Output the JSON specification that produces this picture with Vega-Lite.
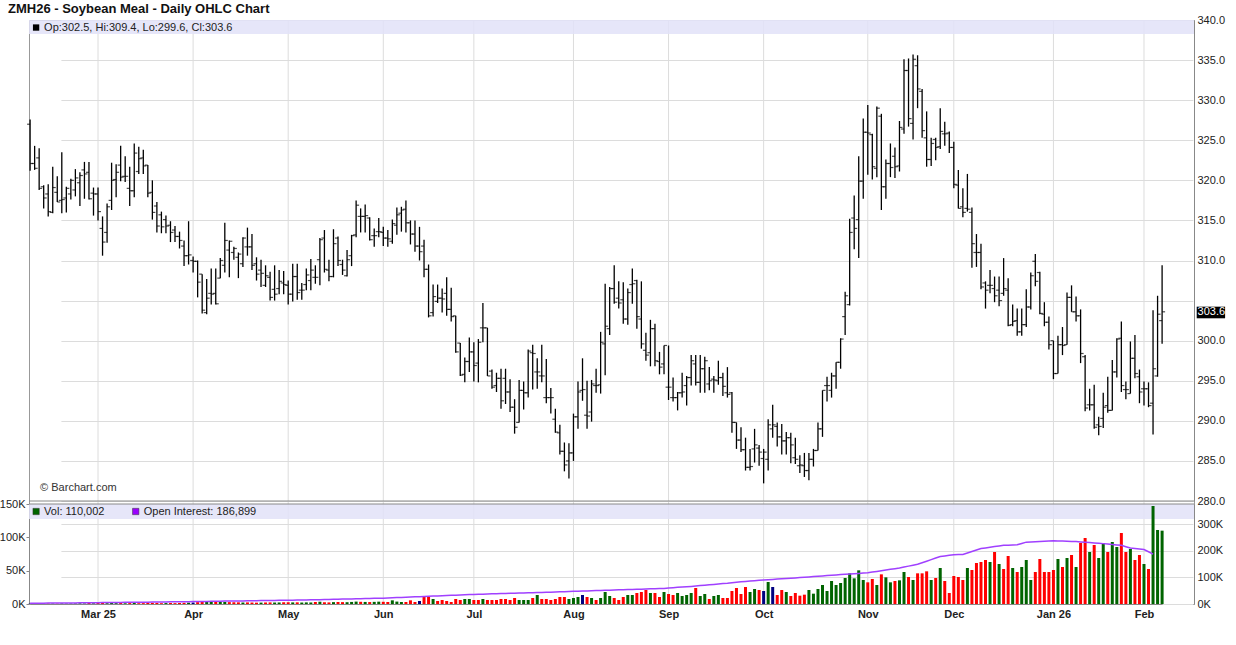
{
"$schema": "https://vega.github.io/schema/vega-lite/v6.json",
"width": 1165, "height": 584,
"autosize": {"type": "none"},
"padding": {"left": 29, "top": 20, "right": 42, "bottom": 41},
"background": "white",
"title": {"text": "ZMH26 - Soybean Meal - Daily OHLC Chart", "anchor": "start", "frame": "group", "dx": -21, "dy": 8, "offset": 6, "fontSize": 13, "fontWeight": "bold", "font": "Liberation Sans", "color": "#111111"},
"config": {"view": {"stroke": "#999999"}, "font": "Liberation Sans"},
"datasets": {"p": [
{"d":"2025-02-07","o":327.0,"h":327.6,"l":321.2,"c":322.1,"v":600,"oi":3000,"dir":"unch"},
{"d":"2025-02-10","o":322.1,"h":324.3,"l":321.3,"c":321.5,"v":500,"oi":3100,"dir":"down"},
{"d":"2025-02-11","o":322.8,"h":324.0,"l":318.8,"c":319.0,"v":700,"oi":3100,"dir":"down"},
{"d":"2025-02-12","o":319.2,"h":319.4,"l":316.5,"c":317.8,"v":600,"oi":3200,"dir":"down"},
{"d":"2025-02-13","o":318.3,"h":319.5,"l":315.5,"c":316.1,"v":800,"oi":3300,"dir":"down"},
{"d":"2025-02-14","o":316.0,"h":321.7,"l":315.9,"c":319.1,"v":700,"oi":3400,"dir":"up"},
{"d":"2025-02-18","o":318.5,"h":320.5,"l":317.3,"c":317.3,"v":600,"oi":3500,"dir":"down"},
{"d":"2025-02-19","o":317.5,"h":323.5,"l":315.9,"c":317.6,"v":900,"oi":3600,"dir":"up"},
{"d":"2025-02-20","o":317.8,"h":319.2,"l":316.0,"c":319.0,"v":700,"oi":3800,"dir":"up"},
{"d":"2025-02-21","o":318.3,"h":320.2,"l":317.6,"c":320.0,"v":800,"oi":3900,"dir":"up"},
{"d":"2025-02-24","o":318.8,"h":321.4,"l":318.0,"c":320.3,"v":900,"oi":4100,"dir":"up"},
{"d":"2025-02-25","o":319.7,"h":321.0,"l":316.8,"c":320.6,"v":1000,"oi":4300,"dir":"up"},
{"d":"2025-02-26","o":321.3,"h":322.3,"l":317.7,"c":320.8,"v":800,"oi":4400,"dir":"up"},
{"d":"2025-02-27","o":321.0,"h":322.3,"l":317.6,"c":317.7,"v":1600,"oi":4600,"dir":"down"},
{"d":"2025-02-28","o":318.4,"h":319.1,"l":315.6,"c":318.3,"v":1000,"oi":4800,"dir":"up"},
{"d":"2025-03-03","o":318.3,"h":319.1,"l":315.0,"c":316.1,"v":1800,"oi":5000,"dir":"down"},
{"d":"2025-03-04","o":314.0,"h":315.5,"l":310.6,"c":312.3,"v":1600,"oi":5200,"dir":"down"},
{"d":"2025-03-05","o":313.5,"h":317.1,"l":312.2,"c":316.7,"v":1200,"oi":5400,"dir":"up"},
{"d":"2025-03-06","o":317.5,"h":322.2,"l":316.3,"c":320.0,"v":1500,"oi":5600,"dir":"up"},
{"d":"2025-03-07","o":320.1,"h":322.0,"l":317.9,"c":321.0,"v":1300,"oi":5800,"dir":"up"},
{"d":"2025-03-10","o":321.9,"h":324.3,"l":319.9,"c":320.4,"v":1600,"oi":6000,"dir":"down"},
{"d":"2025-03-11","o":320.5,"h":323.0,"l":319.8,"c":320.5,"v":1100,"oi":6100,"dir":"up"},
{"d":"2025-03-12","o":319.0,"h":321.7,"l":316.8,"c":318.7,"v":1400,"oi":6300,"dir":"down"},
{"d":"2025-03-13","o":318.7,"h":324.6,"l":317.9,"c":323.4,"v":1500,"oi":6500,"dir":"up"},
{"d":"2025-03-14","o":321.1,"h":324.2,"l":320.8,"c":322.7,"v":1200,"oi":6600,"dir":"down"},
{"d":"2025-03-17","o":322.8,"h":323.8,"l":320.8,"c":321.8,"v":1300,"oi":6800,"dir":"down"},
{"d":"2025-03-18","o":321.9,"h":321.9,"l":317.9,"c":318.4,"v":1600,"oi":7000,"dir":"down"},
{"d":"2025-03-19","o":318.5,"h":320.0,"l":315.1,"c":316.0,"v":1700,"oi":7200,"dir":"down"},
{"d":"2025-03-20","o":316.8,"h":317.3,"l":313.5,"c":314.3,"v":1500,"oi":7400,"dir":"down"},
{"d":"2025-03-21","o":315.7,"h":316.1,"l":313.4,"c":314.2,"v":1200,"oi":7600,"dir":"down"},
{"d":"2025-03-24","o":315.1,"h":315.6,"l":313.4,"c":314.3,"v":1400,"oi":7800,"dir":"up"},
{"d":"2025-03-25","o":314.4,"h":314.9,"l":312.3,"c":313.5,"v":1600,"oi":8000,"dir":"down"},
{"d":"2025-03-26","o":313.8,"h":314.3,"l":312.3,"c":313.0,"v":1300,"oi":8200,"dir":"down"},
{"d":"2025-03-27","o":313.0,"h":313.6,"l":311.5,"c":312.5,"v":1500,"oi":8400,"dir":"down"},
{"d":"2025-03-28","o":311.8,"h":312.5,"l":309.3,"c":310.6,"v":1800,"oi":8600,"dir":"down"},
{"d":"2025-03-31","o":310.6,"h":314.9,"l":309.5,"c":310.7,"v":2000,"oi":8800,"dir":"up"},
{"d":"2025-04-01","o":310.0,"h":310.5,"l":308.5,"c":309.9,"v":2200,"oi":9000,"dir":"unch"},
{"d":"2025-04-02","o":309.9,"h":310.0,"l":305.4,"c":307.3,"v":2800,"oi":9300,"dir":"down"},
{"d":"2025-04-03","o":308.3,"h":308.3,"l":303.4,"c":303.8,"v":4500,"oi":9600,"dir":"down"},
{"d":"2025-04-04","o":303.5,"h":307.7,"l":303.3,"c":305.3,"v":3200,"oi":9800,"dir":"up"},
{"d":"2025-04-07","o":305.9,"h":309.0,"l":304.5,"c":305.8,"v":3000,"oi":10000,"dir":"up"},
{"d":"2025-04-08","o":305.9,"h":309.0,"l":304.5,"c":304.6,"v":3200,"oi":10300,"dir":"down"},
{"d":"2025-04-09","o":307.8,"h":310.3,"l":307.8,"c":310.0,"v":3000,"oi":10500,"dir":"up"},
{"d":"2025-04-10","o":309.4,"h":314.7,"l":308.5,"c":312.5,"v":3100,"oi":10800,"dir":"up"},
{"d":"2025-04-11","o":311.3,"h":312.5,"l":307.9,"c":312.4,"v":2800,"oi":11000,"dir":"down"},
{"d":"2025-04-14","o":311.0,"h":311.7,"l":310.1,"c":311.5,"v":2600,"oi":11200,"dir":"down"},
{"d":"2025-04-15","o":310.4,"h":311.0,"l":307.8,"c":310.8,"v":2500,"oi":11500,"dir":"down"},
{"d":"2025-04-16","o":309.6,"h":312.9,"l":309.2,"c":312.8,"v":2200,"oi":11700,"dir":"up"},
{"d":"2025-04-17","o":311.7,"h":314.1,"l":310.6,"c":311.7,"v":2400,"oi":12000,"dir":"down"},
{"d":"2025-04-21","o":311.7,"h":313.3,"l":308.8,"c":309.4,"v":2200,"oi":12200,"dir":"down"},
{"d":"2025-04-22","o":309.6,"h":310.4,"l":307.5,"c":308.3,"v":2000,"oi":12500,"dir":"down"},
{"d":"2025-04-23","o":308.8,"h":310.1,"l":306.7,"c":308.4,"v":2100,"oi":12700,"dir":"up"},
{"d":"2025-04-24","o":306.9,"h":309.4,"l":306.7,"c":308.1,"v":2300,"oi":12900,"dir":"down"},
{"d":"2025-04-25","o":307.9,"h":308.6,"l":305.0,"c":305.4,"v":2400,"oi":13100,"dir":"down"},
{"d":"2025-04-28","o":306.4,"h":309.4,"l":305.0,"c":305.8,"v":2200,"oi":13400,"dir":"up"},
{"d":"2025-04-29","o":306.5,"h":308.8,"l":305.8,"c":307.4,"v":2300,"oi":13600,"dir":"up"},
{"d":"2025-04-30","o":307.2,"h":308.7,"l":305.8,"c":307.0,"v":2600,"oi":13800,"dir":"down"},
{"d":"2025-05-01","o":306.9,"h":307.5,"l":304.5,"c":305.8,"v":2600,"oi":14000,"dir":"down"},
{"d":"2025-05-02","o":305.8,"h":309.6,"l":304.9,"c":308.0,"v":2400,"oi":14300,"dir":"up"},
{"d":"2025-05-05","o":308.0,"h":309.6,"l":305.1,"c":306.0,"v":2500,"oi":14600,"dir":"down"},
{"d":"2025-05-06","o":306.3,"h":307.2,"l":305.1,"c":306.3,"v":2200,"oi":15000,"dir":"up"},
{"d":"2025-05-07","o":307.0,"h":309.0,"l":306.3,"c":308.2,"v":2400,"oi":15300,"dir":"up"},
{"d":"2025-05-08","o":307.5,"h":310.2,"l":306.3,"c":308.8,"v":2300,"oi":15700,"dir":"up"},
{"d":"2025-05-09","o":307.9,"h":309.4,"l":307.1,"c":307.9,"v":3000,"oi":16000,"dir":"down"},
{"d":"2025-05-12","o":310.1,"h":312.8,"l":306.9,"c":312.6,"v":3400,"oi":16400,"dir":"up"},
{"d":"2025-05-13","o":312.8,"h":313.8,"l":308.5,"c":308.9,"v":2600,"oi":16700,"dir":"down"},
{"d":"2025-05-14","o":308.8,"h":310.1,"l":307.4,"c":308.0,"v":2400,"oi":17100,"dir":"down"},
{"d":"2025-05-15","o":308.0,"h":313.9,"l":307.9,"c":312.1,"v":2800,"oi":17500,"dir":"up"},
{"d":"2025-05-16","o":312.8,"h":313.0,"l":309.3,"c":310.0,"v":3000,"oi":17900,"dir":"down"},
{"d":"2025-05-19","o":309.5,"h":310.1,"l":308.2,"c":308.8,"v":2800,"oi":18300,"dir":"down"},
{"d":"2025-05-20","o":308.1,"h":311.3,"l":308.0,"c":310.1,"v":2700,"oi":18700,"dir":"up"},
{"d":"2025-05-21","o":310.6,"h":313.2,"l":309.3,"c":313.1,"v":3100,"oi":19100,"dir":"up"},
{"d":"2025-05-22","o":313.2,"h":317.5,"l":312.9,"c":316.9,"v":3600,"oi":19500,"dir":"up"},
{"d":"2025-05-23","o":315.5,"h":316.5,"l":313.5,"c":315.5,"v":3300,"oi":19900,"dir":"down"},
{"d":"2025-05-27","o":315.5,"h":317.0,"l":313.5,"c":315.6,"v":3100,"oi":20300,"dir":"up"},
{"d":"2025-05-28","o":315.3,"h":315.4,"l":312.5,"c":312.6,"v":2900,"oi":20800,"dir":"down"},
{"d":"2025-05-29","o":313.1,"h":314.0,"l":311.7,"c":313.1,"v":3200,"oi":21200,"dir":"up"},
{"d":"2025-05-30","o":313.6,"h":315.3,"l":312.9,"c":313.6,"v":3500,"oi":21600,"dir":"up"},
{"d":"2025-06-02","o":313.5,"h":314.2,"l":311.8,"c":312.8,"v":3300,"oi":22000,"dir":"down"},
{"d":"2025-06-03","o":312.8,"h":313.8,"l":311.7,"c":312.7,"v":3000,"oi":22700,"dir":"down"},
{"d":"2025-06-04","o":312.4,"h":315.1,"l":312.1,"c":314.6,"v":5500,"oi":23400,"dir":"up"},
{"d":"2025-06-05","o":314.4,"h":316.6,"l":313.2,"c":315.7,"v":3600,"oi":24100,"dir":"up"},
{"d":"2025-06-06","o":315.9,"h":316.7,"l":313.6,"c":316.3,"v":3000,"oi":24800,"dir":"up"},
{"d":"2025-06-09","o":316.4,"h":317.5,"l":313.5,"c":314.7,"v":3000,"oi":25500,"dir":"down"},
{"d":"2025-06-10","o":314.7,"h":315.0,"l":312.0,"c":313.3,"v":5500,"oi":26200,"dir":"down"},
{"d":"2025-06-11","o":313.3,"h":315.0,"l":311.1,"c":311.8,"v":3000,"oi":26900,"dir":"down"},
{"d":"2025-06-12","o":311.8,"h":314.2,"l":310.0,"c":311.1,"v":4500,"oi":27600,"dir":"unch"},
{"d":"2025-06-13","o":311.8,"h":312.6,"l":307.9,"c":308.9,"v":10500,"oi":28300,"dir":"down"},
{"d":"2025-06-16","o":308.9,"h":309.5,"l":302.9,"c":303.1,"v":10500,"oi":29000,"dir":"down"},
{"d":"2025-06-17","o":303.5,"h":307.0,"l":303.0,"c":305.5,"v":7500,"oi":29700,"dir":"up"},
{"d":"2025-06-18","o":304.9,"h":307.0,"l":304.7,"c":305.3,"v":4500,"oi":30400,"dir":"down"},
{"d":"2025-06-20","o":305.3,"h":306.5,"l":303.5,"c":305.2,"v":6000,"oi":31100,"dir":"down"},
{"d":"2025-06-23","o":305.9,"h":307.9,"l":303.1,"c":303.9,"v":4500,"oi":31800,"dir":"down"},
{"d":"2025-06-24","o":303.9,"h":306.6,"l":302.4,"c":303.0,"v":3000,"oi":32500,"dir":"down"},
{"d":"2025-06-25","o":303.1,"h":303.1,"l":298.5,"c":298.6,"v":7500,"oi":33200,"dir":"down"},
{"d":"2025-06-26","o":299.7,"h":299.7,"l":295.6,"c":295.7,"v":6000,"oi":33900,"dir":"down"},
{"d":"2025-06-27","o":295.8,"h":297.9,"l":294.8,"c":297.4,"v":7500,"oi":34600,"dir":"up"},
{"d":"2025-06-30","o":297.4,"h":300.4,"l":296.1,"c":298.6,"v":7500,"oi":35300,"dir":"up"},
{"d":"2025-07-01","o":298.6,"h":299.8,"l":294.9,"c":296.9,"v":6000,"oi":36000,"dir":"down"},
{"d":"2025-07-02","o":297.2,"h":300.2,"l":294.8,"c":299.8,"v":6000,"oi":36500,"dir":"down"},
{"d":"2025-07-03","o":301.6,"h":304.7,"l":299.8,"c":301.6,"v":7500,"oi":37000,"dir":"up"},
{"d":"2025-07-07","o":301.6,"h":301.6,"l":295.6,"c":295.6,"v":6000,"oi":37500,"dir":"down"},
{"d":"2025-07-08","o":296.2,"h":296.4,"l":294.0,"c":294.2,"v":6000,"oi":38000,"dir":"down"},
{"d":"2025-07-09","o":294.4,"h":296.0,"l":293.6,"c":295.3,"v":6000,"oi":38500,"dir":"down"},
{"d":"2025-07-10","o":295.3,"h":296.5,"l":291.5,"c":292.5,"v":7500,"oi":39000,"dir":"down"},
{"d":"2025-07-11","o":295.3,"h":296.5,"l":292.1,"c":293.6,"v":7500,"oi":39500,"dir":"down"},
{"d":"2025-07-14","o":293.6,"h":295.2,"l":291.1,"c":291.7,"v":6000,"oi":40000,"dir":"down"},
{"d":"2025-07-15","o":291.7,"h":292.7,"l":288.4,"c":289.2,"v":9000,"oi":40500,"dir":"down"},
{"d":"2025-07-16","o":289.8,"h":295.1,"l":289.8,"c":293.8,"v":6000,"oi":41000,"dir":"up"},
{"d":"2025-07-17","o":293.8,"h":294.9,"l":291.4,"c":293.5,"v":6000,"oi":41500,"dir":"up"},
{"d":"2025-07-18","o":293.5,"h":298.9,"l":292.9,"c":298.7,"v":6000,"oi":42000,"dir":"up"},
{"d":"2025-07-21","o":298.5,"h":299.5,"l":293.9,"c":298.4,"v":9000,"oi":42500,"dir":"down"},
{"d":"2025-07-22","o":296.1,"h":297.8,"l":294.0,"c":296.1,"v":13500,"oi":43000,"dir":"up"},
{"d":"2025-07-23","o":295.6,"h":299.5,"l":294.8,"c":295.6,"v":7500,"oi":43500,"dir":"down"},
{"d":"2025-07-24","o":292.9,"h":297.7,"l":292.2,"c":292.9,"v":7500,"oi":44000,"dir":"down"},
{"d":"2025-07-25","o":292.9,"h":294.1,"l":290.9,"c":292.9,"v":6000,"oi":44500,"dir":"down"},
{"d":"2025-07-28","o":290.2,"h":291.5,"l":288.5,"c":288.6,"v":7500,"oi":45000,"dir":"down"},
{"d":"2025-07-29","o":288.5,"h":289.5,"l":285.8,"c":286.2,"v":10500,"oi":45500,"dir":"down"},
{"d":"2025-07-30","o":286.2,"h":287.3,"l":283.7,"c":284.5,"v":10500,"oi":46000,"dir":"down"},
{"d":"2025-07-31","o":285.0,"h":287.2,"l":282.8,"c":286.0,"v":7500,"oi":46800,"dir":"up"},
{"d":"2025-08-01","o":286.0,"h":290.9,"l":285.0,"c":290.5,"v":9000,"oi":47500,"dir":"up"},
{"d":"2025-08-04","o":290.5,"h":294.9,"l":289.0,"c":293.6,"v":10500,"oi":48000,"dir":"up"},
{"d":"2025-08-05","o":293.8,"h":297.8,"l":292.5,"c":293.9,"v":13500,"oi":48600,"dir":"unch"},
{"d":"2025-08-06","o":290.7,"h":295.0,"l":289.0,"c":290.6,"v":10500,"oi":49100,"dir":"down"},
{"d":"2025-08-07","o":291.1,"h":295.1,"l":289.9,"c":294.6,"v":9000,"oi":49700,"dir":"up"},
{"d":"2025-08-08","o":294.4,"h":296.5,"l":293.5,"c":294.4,"v":6000,"oi":50200,"dir":"down"},
{"d":"2025-08-11","o":294.5,"h":301.1,"l":293.4,"c":299.8,"v":9000,"oi":50800,"dir":"up"},
{"d":"2025-08-12","o":299.6,"h":307.1,"l":295.7,"c":301.8,"v":18000,"oi":51300,"dir":"up"},
{"d":"2025-08-13","o":301.5,"h":306.7,"l":300.7,"c":306.5,"v":12000,"oi":51900,"dir":"up"},
{"d":"2025-08-14","o":306.5,"h":309.4,"l":304.6,"c":304.8,"v":9000,"oi":52400,"dir":"down"},
{"d":"2025-08-15","o":305.3,"h":307.4,"l":304.0,"c":304.7,"v":6000,"oi":53000,"dir":"down"},
{"d":"2025-08-18","o":305.1,"h":307.3,"l":302.1,"c":302.7,"v":10500,"oi":53500,"dir":"down"},
{"d":"2025-08-19","o":302.7,"h":306.5,"l":302.0,"c":306.0,"v":13500,"oi":54100,"dir":"up"},
{"d":"2025-08-20","o":307.0,"h":309.0,"l":304.6,"c":307.1,"v":13500,"oi":54600,"dir":"up"},
{"d":"2025-08-21","o":307.5,"h":307.6,"l":301.5,"c":303.0,"v":16500,"oi":55200,"dir":"down"},
{"d":"2025-08-22","o":302.7,"h":307.4,"l":299.0,"c":299.6,"v":18000,"oi":55700,"dir":"down"},
{"d":"2025-08-25","o":298.8,"h":301.0,"l":297.5,"c":298.2,"v":21000,"oi":56300,"dir":"down"},
{"d":"2025-08-26","o":298.5,"h":302.6,"l":296.8,"c":301.5,"v":16500,"oi":56800,"dir":"up"},
{"d":"2025-08-27","o":301.5,"h":302.1,"l":296.8,"c":297.5,"v":16500,"oi":57400,"dir":"down"},
{"d":"2025-08-28","o":297.4,"h":298.6,"l":295.8,"c":296.7,"v":10500,"oi":57900,"dir":"down"},
{"d":"2025-08-29","o":297.1,"h":299.4,"l":295.8,"c":299.4,"v":18000,"oi":58500,"dir":"up"},
{"d":"2025-09-02","o":294.2,"h":299.4,"l":292.6,"c":294.2,"v":15000,"oi":60000,"dir":"down"},
{"d":"2025-09-03","o":292.9,"h":295.4,"l":292.4,"c":292.9,"v":13500,"oi":61200,"dir":"down"},
{"d":"2025-09-04","o":292.9,"h":293.6,"l":291.3,"c":293.5,"v":16500,"oi":62400,"dir":"up"},
{"d":"2025-09-05","o":293.5,"h":296.0,"l":292.9,"c":293.6,"v":12000,"oi":63600,"dir":"up"},
{"d":"2025-09-08","o":294.4,"h":295.6,"l":291.9,"c":295.4,"v":13500,"oi":64800,"dir":"up"},
{"d":"2025-09-09","o":295.4,"h":298.2,"l":294.4,"c":297.5,"v":16500,"oi":66000,"dir":"up"},
{"d":"2025-09-10","o":297.1,"h":298.2,"l":294.4,"c":294.8,"v":24000,"oi":67500,"dir":"down"},
{"d":"2025-09-11","o":294.8,"h":298.2,"l":293.5,"c":296.5,"v":12000,"oi":69000,"dir":"up"},
{"d":"2025-09-12","o":296.5,"h":298.0,"l":293.5,"c":297.5,"v":15000,"oi":70500,"dir":"up"},
{"d":"2025-09-15","o":294.6,"h":296.7,"l":293.8,"c":295.0,"v":7500,"oi":72000,"dir":"down"},
{"d":"2025-09-16","o":295.2,"h":295.6,"l":293.5,"c":295.1,"v":12000,"oi":73500,"dir":"up"},
{"d":"2025-09-17","o":295.0,"h":297.5,"l":294.5,"c":295.4,"v":13500,"oi":75000,"dir":"up"},
{"d":"2025-09-18","o":295.4,"h":296.0,"l":293.1,"c":294.3,"v":9000,"oi":76500,"dir":"down"},
{"d":"2025-09-19","o":293.5,"h":296.7,"l":292.9,"c":293.3,"v":9000,"oi":78000,"dir":"down"},
{"d":"2025-09-22","o":293.5,"h":293.6,"l":288.5,"c":289.8,"v":19500,"oi":80000,"dir":"down"},
{"d":"2025-09-23","o":289.8,"h":289.8,"l":286.5,"c":287.6,"v":24000,"oi":81500,"dir":"down"},
{"d":"2025-09-24","o":287.6,"h":289.2,"l":286.1,"c":286.4,"v":15000,"oi":83000,"dir":"down"},
{"d":"2025-09-25","o":286.4,"h":287.9,"l":283.8,"c":284.2,"v":25500,"oi":84500,"dir":"down"},
{"d":"2025-09-26","o":284.2,"h":286.5,"l":283.8,"c":284.3,"v":18000,"oi":86000,"dir":"up"},
{"d":"2025-09-29","o":286.5,"h":289.0,"l":284.8,"c":287.0,"v":22500,"oi":87500,"dir":"up"},
{"d":"2025-09-30","o":286.6,"h":287.0,"l":284.4,"c":286.1,"v":21000,"oi":89000,"dir":"down"},
{"d":"2025-10-01","o":285.3,"h":286.5,"l":282.2,"c":286.1,"v":19500,"oi":90000,"dir":"unch"},
{"d":"2025-10-02","o":285.2,"h":290.2,"l":283.8,"c":289.5,"v":33000,"oi":91100,"dir":"up"},
{"d":"2025-10-03","o":289.0,"h":292.0,"l":287.9,"c":289.5,"v":25500,"oi":92200,"dir":"unch"},
{"d":"2025-10-06","o":289.3,"h":289.8,"l":286.8,"c":288.0,"v":13500,"oi":93400,"dir":"down"},
{"d":"2025-10-07","o":288.0,"h":289.6,"l":285.8,"c":287.5,"v":21000,"oi":94500,"dir":"down"},
{"d":"2025-10-08","o":287.5,"h":288.6,"l":285.8,"c":287.9,"v":18000,"oi":95600,"dir":"up"},
{"d":"2025-10-09","o":287.9,"h":288.5,"l":284.7,"c":287.0,"v":12000,"oi":96800,"dir":"down"},
{"d":"2025-10-10","o":285.4,"h":287.9,"l":284.6,"c":285.2,"v":16500,"oi":97900,"dir":"down"},
{"d":"2025-10-13","o":284.4,"h":285.7,"l":283.5,"c":284.5,"v":12500,"oi":99000,"dir":"down"},
{"d":"2025-10-14","o":284.4,"h":286.0,"l":283.0,"c":283.8,"v":14000,"oi":100300,"dir":"down"},
{"d":"2025-10-15","o":283.8,"h":286.0,"l":282.6,"c":285.2,"v":21000,"oi":101600,"dir":"up"},
{"d":"2025-10-16","o":285.2,"h":286.5,"l":284.3,"c":286.3,"v":15500,"oi":102900,"dir":"up"},
{"d":"2025-10-17","o":286.3,"h":289.8,"l":286.3,"c":289.0,"v":22500,"oi":104100,"dir":"up"},
{"d":"2025-10-20","o":289.0,"h":293.8,"l":288.0,"c":293.8,"v":28500,"oi":105400,"dir":"up"},
{"d":"2025-10-21","o":294.4,"h":295.5,"l":292.4,"c":294.4,"v":19500,"oi":106700,"dir":"up"},
{"d":"2025-10-22","o":293.8,"h":296.0,"l":292.9,"c":295.6,"v":34500,"oi":108000,"dir":"up"},
{"d":"2025-10-23","o":295.6,"h":297.3,"l":294.0,"c":297.3,"v":28500,"oi":109100,"dir":"up"},
{"d":"2025-10-24","o":297.3,"h":300.3,"l":296.5,"c":300.2,"v":31500,"oi":110200,"dir":"up"},
{"d":"2025-10-27","o":303.0,"h":306.1,"l":300.7,"c":305.6,"v":39000,"oi":111400,"dir":"up"},
{"d":"2025-10-28","o":304.5,"h":315.2,"l":304.4,"c":313.5,"v":46000,"oi":112500,"dir":"up"},
{"d":"2025-10-29","o":315.3,"h":318.1,"l":311.4,"c":314.0,"v":38500,"oi":113600,"dir":"up"},
{"d":"2025-10-30","o":315.1,"h":323.0,"l":310.3,"c":319.9,"v":50500,"oi":114700,"dir":"up"},
{"d":"2025-10-31","o":319.9,"h":327.7,"l":317.7,"c":326.0,"v":36000,"oi":115900,"dir":"up"},
{"d":"2025-11-03","o":326.0,"h":329.4,"l":320.7,"c":325.9,"v":32500,"oi":117000,"dir":"down"},
{"d":"2025-11-04","o":325.7,"h":325.8,"l":320.1,"c":321.7,"v":37500,"oi":119600,"dir":"down"},
{"d":"2025-11-05","o":321.5,"h":329.2,"l":320.4,"c":329.0,"v":28500,"oi":122100,"dir":"up"},
{"d":"2025-11-06","o":328.0,"h":328.3,"l":316.3,"c":319.2,"v":44500,"oi":124700,"dir":"down"},
{"d":"2025-11-07","o":319.2,"h":322.6,"l":317.7,"c":322.1,"v":40000,"oi":127300,"dir":"up"},
{"d":"2025-11-10","o":322.1,"h":324.6,"l":320.4,"c":321.6,"v":32500,"oi":129900,"dir":"up"},
{"d":"2025-11-11","o":323.0,"h":324.1,"l":320.3,"c":321.7,"v":34500,"oi":132400,"dir":"down"},
{"d":"2025-11-12","o":321.8,"h":327.4,"l":321.1,"c":326.6,"v":35500,"oi":135000,"dir":"up"},
{"d":"2025-11-13","o":326.4,"h":335.1,"l":325.8,"c":333.7,"v":48000,"oi":138500,"dir":"up"},
{"d":"2025-11-14","o":333.7,"h":335.2,"l":326.7,"c":327.7,"v":40500,"oi":142000,"dir":"down"},
{"d":"2025-11-17","o":327.1,"h":335.7,"l":325.1,"c":335.1,"v":36000,"oi":145500,"dir":"up"},
{"d":"2025-11-18","o":334.3,"h":335.6,"l":329.0,"c":331.4,"v":46000,"oi":149000,"dir":"down"},
{"d":"2025-11-19","o":331.1,"h":331.4,"l":325.3,"c":326.2,"v":46000,"oi":154800,"dir":"down"},
{"d":"2025-11-20","o":325.3,"h":328.6,"l":321.7,"c":322.6,"v":49000,"oi":160600,"dir":"down"},
{"d":"2025-11-21","o":322.6,"h":325.3,"l":321.8,"c":324.6,"v":36000,"oi":166400,"dir":"up"},
{"d":"2025-11-24","o":325.1,"h":325.3,"l":322.5,"c":324.1,"v":39000,"oi":172200,"dir":"down"},
{"d":"2025-11-25","o":324.2,"h":329.0,"l":323.9,"c":326.1,"v":54000,"oi":178000,"dir":"up"},
{"d":"2025-11-26","o":325.8,"h":327.3,"l":324.3,"c":325.8,"v":34500,"oi":180300,"dir":"down"},
{"d":"2025-11-28","o":325.9,"h":326.1,"l":323.4,"c":324.1,"v":16500,"oi":182700,"dir":"down"},
{"d":"2025-12-01","o":324.1,"h":324.8,"l":319.0,"c":319.5,"v":42000,"oi":185000,"dir":"down"},
{"d":"2025-12-02","o":319.4,"h":321.3,"l":316.5,"c":316.5,"v":40500,"oi":185500,"dir":"down"},
{"d":"2025-12-03","o":316.7,"h":319.0,"l":315.4,"c":316.0,"v":36000,"oi":186000,"dir":"down"},
{"d":"2025-12-04","o":316.5,"h":320.8,"l":316.1,"c":316.4,"v":54000,"oi":191500,"dir":"up"},
{"d":"2025-12-05","o":316.0,"h":316.6,"l":309.1,"c":312.1,"v":51000,"oi":197000,"dir":"down"},
{"d":"2025-12-08","o":311.0,"h":313.3,"l":309.2,"c":311.0,"v":61500,"oi":202500,"dir":"down"},
{"d":"2025-12-09","o":311.0,"h":312.1,"l":306.4,"c":306.7,"v":63000,"oi":208000,"dir":"down"},
{"d":"2025-12-10","o":307.2,"h":307.4,"l":304.0,"c":306.3,"v":66000,"oi":210400,"dir":"down"},
{"d":"2025-12-11","o":306.9,"h":308.8,"l":305.9,"c":306.9,"v":63000,"oi":212800,"dir":"up"},
{"d":"2025-12-12","o":306.5,"h":308.0,"l":304.8,"c":305.6,"v":78000,"oi":215200,"dir":"down"},
{"d":"2025-12-15","o":306.3,"h":308.0,"l":304.3,"c":305.0,"v":60000,"oi":217600,"dir":"up"},
{"d":"2025-12-16","o":305.9,"h":310.3,"l":305.6,"c":306.5,"v":52500,"oi":220000,"dir":"down"},
{"d":"2025-12-17","o":306.3,"h":307.8,"l":301.8,"c":301.9,"v":72000,"oi":220700,"dir":"down"},
{"d":"2025-12-18","o":302.0,"h":304.5,"l":301.8,"c":302.4,"v":54000,"oi":221300,"dir":"up"},
{"d":"2025-12-19","o":302.5,"h":304.0,"l":300.6,"c":301.1,"v":48000,"oi":222000,"dir":"down"},
{"d":"2025-12-22","o":301.1,"h":304.0,"l":300.6,"c":302.0,"v":55500,"oi":227000,"dir":"up"},
{"d":"2025-12-23","o":302.0,"h":306.4,"l":301.7,"c":304.2,"v":66000,"oi":232000,"dir":"up"},
{"d":"2025-12-24","o":304.2,"h":308.5,"l":303.9,"c":308.1,"v":36000,"oi":232800,"dir":"up"},
{"d":"2025-12-26","o":309.9,"h":310.8,"l":306.8,"c":307.4,"v":48000,"oi":233700,"dir":"down"},
{"d":"2025-12-29","o":308.5,"h":308.6,"l":303.3,"c":303.4,"v":67500,"oi":234500,"dir":"down"},
{"d":"2025-12-30","o":303.3,"h":304.8,"l":301.8,"c":302.3,"v":48000,"oi":235300,"dir":"down"},
{"d":"2025-12-31","o":302.3,"h":303.0,"l":298.9,"c":299.5,"v":48000,"oi":236200,"dir":"down"},
{"d":"2026-01-02","o":300.0,"h":300.0,"l":295.2,"c":295.9,"v":51000,"oi":237000,"dir":"down"},
{"d":"2026-01-05","o":295.9,"h":300.6,"l":295.9,"c":299.5,"v":67500,"oi":236400,"dir":"up"},
{"d":"2026-01-06","o":299.5,"h":301.7,"l":298.2,"c":299.4,"v":55500,"oi":235800,"dir":"down"},
{"d":"2026-01-07","o":299.5,"h":306.0,"l":299.5,"c":305.4,"v":69000,"oi":235200,"dir":"up"},
{"d":"2026-01-08","o":305.4,"h":306.9,"l":303.6,"c":303.6,"v":73500,"oi":234600,"dir":"down"},
{"d":"2026-01-09","o":303.6,"h":305.5,"l":302.4,"c":303.1,"v":55500,"oi":234000,"dir":"up"},
{"d":"2026-01-12","o":303.1,"h":303.9,"l":297.2,"c":298.4,"v":91500,"oi":232800,"dir":"down"},
{"d":"2026-01-13","o":298.0,"h":298.2,"l":291.2,"c":291.6,"v":99000,"oi":231600,"dir":"down"},
{"d":"2026-01-14","o":292.0,"h":294.0,"l":291.3,"c":292.0,"v":78000,"oi":230400,"dir":"up"},
{"d":"2026-01-15","o":292.0,"h":294.5,"l":289.0,"c":289.2,"v":88500,"oi":229200,"dir":"down"},
{"d":"2026-01-16","o":289.5,"h":290.5,"l":288.2,"c":289.3,"v":69000,"oi":228000,"dir":"up"},
{"d":"2026-01-20","o":290.3,"h":293.5,"l":289.1,"c":291.7,"v":91500,"oi":226400,"dir":"up"},
{"d":"2026-01-21","o":291.9,"h":295.5,"l":291.0,"c":291.3,"v":78000,"oi":224800,"dir":"down"},
{"d":"2026-01-22","o":291.3,"h":297.6,"l":291.3,"c":296.1,"v":93000,"oi":223200,"dir":"up"},
{"d":"2026-01-23","o":296.1,"h":300.3,"l":295.4,"c":300.2,"v":85500,"oi":221600,"dir":"up"},
{"d":"2026-01-26","o":300.3,"h":302.4,"l":293.6,"c":294.4,"v":106500,"oi":220000,"dir":"down"},
{"d":"2026-01-27","o":293.9,"h":294.9,"l":292.7,"c":293.9,"v":78000,"oi":215000,"dir":"down"},
{"d":"2026-01-28","o":293.4,"h":299.9,"l":293.4,"c":297.8,"v":82500,"oi":210000,"dir":"up"},
{"d":"2026-01-29","o":297.8,"h":300.7,"l":295.3,"c":295.9,"v":66000,"oi":208000,"dir":"down"},
{"d":"2026-01-30","o":295.5,"h":296.4,"l":292.2,"c":293.6,"v":73500,"oi":206000,"dir":"down"},
{"d":"2026-02-02","o":294.0,"h":294.9,"l":291.9,"c":294.0,"v":60000,"oi":204000,"dir":"up"},
{"d":"2026-02-03","o":294.0,"h":294.8,"l":291.7,"c":291.9,"v":52500,"oi":196000,"dir":"down"},
{"d":"2026-02-04","o":292.2,"h":303.8,"l":288.3,"c":296.5,"v":147000,"oi":186899,"dir":"up"},
{"d":"2026-02-05","o":295.6,"h":305.6,"l":295.5,"c":303.3,"v":111000,"oi":null,"dir":"up"},
{"d":"2026-02-06","o":302.5,"h":309.4,"l":299.6,"c":303.6,"v":110002,"oi":null,"dir":"up"}
],
"months": [{"g":"2025-03-03"},{"g":"2025-04-01"},{"g":"2025-05-01"},{"g":"2025-06-02"},{"g":"2025-07-01"},{"g":"2025-08-01"},{"g":"2025-09-02"},{"g":"2025-10-01"},{"g":"2025-11-03"},{"g":"2025-12-01"},{"g":"2026-01-02"},{"g":"2026-02-02"}]
},
"layer": [
{"data": {"name": "months"},
 "mark": {"type": "rule", "color": "#dcdcdc", "strokeWidth": 1},
 "encoding": {
  "x": {"field": "g", "type": "ordinal", "scale": {"type": "point", "range": [1.1, 1133.1], "padding": 0},
        "axis": {"values": ["2025-03-03","2025-04-01","2025-05-01","2025-06-02","2025-07-01","2025-08-01","2025-09-02","2025-10-01","2025-11-03","2025-12-01","2026-01-02","2026-02-02"],
                 "labelExpr": "utcFormat(toDate(datum.value), (datum.value == '2025-03-03' || datum.value == '2026-01-02') ? '%b %y' : '%b')",
                 "labelAngle": 0, "grid": false, "domain": true, "domainColor": "#888888", "ticks": false,
                 "labelFontWeight": "bold", "labelFontSize": 11, "labelColor": "#222222", "labelPadding": 4, "title": null}}}},
{"data": {"values": [{}]},
 "mark": {"type": "rect", "color": "#e2e2f8", "opacity": 0.85},
 "encoding": {
  "y": {"datum": 340, "type": "quantitative", "scale": {"domain": [280, 340], "range": [481, 0], "zero": false, "nice": false}, "axis": null},
  "y2": {"datum": 338.25}}},
{"data": {"values": [{}]},
 "mark": {"type": "rect", "color": "#e2e2f8", "opacity": 0.85},
 "encoding": {
  "y": {"datum": 150000, "type": "quantitative", "scale": {"domain": [0, 150000], "range": [584, 484], "nice": false}, "axis": null},
  "y2": {"datum": 127500}}},
{"data": {"name": "p"},
 "mark": {"type": "bar", "size": 3},
 "encoding": {
  "x": {"field": "d", "type": "ordinal",
        "axis": {"values": ["2025-03-03","2025-04-01","2025-05-01","2025-06-02","2025-07-01","2025-08-01","2025-09-02","2025-10-01","2025-11-03","2025-12-01","2026-01-02","2026-02-02"],
                 "labelExpr": "utcFormat(toDate(datum.value), (datum.value == '2025-03-03' || datum.value == '2026-01-02') ? '%b %y' : '%b')",
                 "labelAngle": 0, "grid": false, "domain": true, "domainColor": "#888888", "ticks": false,
                 "labelFontWeight": "bold", "labelFontSize": 11, "labelColor": "#222222", "labelPadding": 4, "title": null}},
  "y": {"field": "v", "type": "quantitative", "scale": {"domain": [0, 150000], "range": [584, 484], "nice": false},
        "axis": {"orient": "left", "values": [0, 50000, 100000, 150000], "labelExpr": "format(datum.value / 1000, 'd') + 'K'",
                 "grid": false, "domain": true, "domainColor": "#888888", "ticks": true, "tickSize": 3, "tickColor": "#888888",
                 "labelPadding": 1, "labelFontSize": 11, "labelColor": "#222222", "title": null}},
  "color": {"field": "dir", "type": "nominal", "scale": {"domain": ["up", "down", "unch"], "range": ["#006400", "#ff0000", "#000080"]}, "legend": null}}},
{"data": {"name": "p"},
 "transform": [{"filter": "isValid(datum.oi)"}],
 "mark": {"type": "line", "color": "#a040ff", "strokeWidth": 1.5},
 "encoding": {
  "x": {"field": "d", "type": "ordinal",
        "axis": {"values": ["2025-03-03","2025-04-01","2025-05-01","2025-06-02","2025-07-01","2025-08-01","2025-09-02","2025-10-01","2025-11-03","2025-12-01","2026-01-02","2026-02-02"],
                 "labelExpr": "utcFormat(toDate(datum.value), (datum.value == '2025-03-03' || datum.value == '2026-01-02') ? '%b %y' : '%b')",
                 "labelAngle": 0, "grid": false, "domain": true, "domainColor": "#888888", "ticks": false,
                 "labelFontWeight": "bold", "labelFontSize": 11, "labelColor": "#222222", "labelPadding": 4, "title": null}},
  "y": {"field": "oi", "type": "quantitative", "scale": {"domain": [0, 375000], "range": [584, 484], "nice": false},
        "axis": {"orient": "right", "values": [0, 100000, 200000, 300000], "labelExpr": "format(datum.value / 1000, 'd') + 'K'",
                 "grid": true, "gridColor": "#dcdcdc", "domain": true, "domainColor": "#888888", "ticks": false,
                 "labelPadding": 3, "labelFontSize": 11, "labelColor": "#222222", "title": null}}}},
{"data": {"name": "p"},
 "mark": {"type": "rule", "color": "#000000", "strokeWidth": 1.3},
 "encoding": {
  "x": {"field": "d", "type": "ordinal",
        "axis": {"values": ["2025-03-03","2025-04-01","2025-05-01","2025-06-02","2025-07-01","2025-08-01","2025-09-02","2025-10-01","2025-11-03","2025-12-01","2026-01-02","2026-02-02"],
                 "labelExpr": "utcFormat(toDate(datum.value), (datum.value == '2025-03-03' || datum.value == '2026-01-02') ? '%b %y' : '%b')",
                 "labelAngle": 0, "grid": false, "domain": true, "domainColor": "#888888", "ticks": false,
                 "labelFontWeight": "bold", "labelFontSize": 11, "labelColor": "#222222", "labelPadding": 4, "title": null}},
  "y": {"field": "l", "type": "quantitative", "scale": {"domain": [280, 340], "range": [481, 0], "zero": false, "nice": false},
        "axis": {"orient": "right", "values": [280, 285, 290, 295, 300, 305, 310, 315, 320, 325, 330, 335, 340],
                 "labelExpr": "datum.value == 305 ? '' : format(datum.value, '.1f')",
                 "grid": true, "gridColor": "#dcdcdc", "domain": true, "domainColor": "#888888", "ticks": false,
                 "labelPadding": 3, "labelFontSize": 11, "labelColor": "#222222", "title": null}},
  "y2": {"field": "h"}}},
{"data": {"name": "p"},
 "mark": {"type": "tick", "color": "#000000", "size": 3, "thickness": 1.2, "xOffset": -1.5, "orient": "horizontal"},
 "encoding": {
  "x": {"field": "d", "type": "ordinal",
        "axis": {"values": ["2025-03-03","2025-04-01","2025-05-01","2025-06-02","2025-07-01","2025-08-01","2025-09-02","2025-10-01","2025-11-03","2025-12-01","2026-01-02","2026-02-02"],
                 "labelExpr": "utcFormat(toDate(datum.value), (datum.value == '2025-03-03' || datum.value == '2026-01-02') ? '%b %y' : '%b')",
                 "labelAngle": 0, "grid": false, "domain": true, "domainColor": "#888888", "ticks": false,
                 "labelFontWeight": "bold", "labelFontSize": 11, "labelColor": "#222222", "labelPadding": 4, "title": null}},
  "y": {"field": "o", "type": "quantitative", "scale": {"domain": [280, 340], "range": [481, 0], "zero": false, "nice": false}, "axis": null}}},
{"data": {"name": "p"},
 "mark": {"type": "tick", "color": "#000000", "size": 3, "thickness": 1.2, "xOffset": 1.5, "orient": "horizontal"},
 "encoding": {
  "x": {"field": "d", "type": "ordinal",
        "axis": {"values": ["2025-03-03","2025-04-01","2025-05-01","2025-06-02","2025-07-01","2025-08-01","2025-09-02","2025-10-01","2025-11-03","2025-12-01","2026-01-02","2026-02-02"],
                 "labelExpr": "utcFormat(toDate(datum.value), (datum.value == '2025-03-03' || datum.value == '2026-01-02') ? '%b %y' : '%b')",
                 "labelAngle": 0, "grid": false, "domain": true, "domainColor": "#888888", "ticks": false,
                 "labelFontWeight": "bold", "labelFontSize": 11, "labelColor": "#222222", "labelPadding": 4, "title": null}},
  "y": {"field": "c", "type": "quantitative", "scale": {"domain": [280, 340], "range": [481, 0], "zero": false, "nice": false}, "axis": null}}},
{"data": {"values": [{}]},
 "mark": {"type": "rule", "color": "#888888", "strokeWidth": 1},
 "encoding": {
  "y": {"datum": 280, "type": "quantitative", "scale": {"domain": [280, 340], "range": [481, 0], "zero": false, "nice": false}, "axis": null}}},
{"data": {"values": [{}]},
 "mark": {"type": "rule", "color": "#888888", "strokeWidth": 1},
 "encoding": {
  "y": {"datum": 150000, "type": "quantitative", "scale": {"domain": [0, 150000], "range": [584, 484], "nice": false}, "axis": null}}},
{"data": {"values": [{"at": "2025-02-07"}]},
 "mark": {"type": "point", "shape": "square", "filled": true, "size": 40, "color": "#000000", "opacity": 1, "xOffset": 6},
 "encoding": {
  "x": {"field": "at", "type": "ordinal",
        "axis": {"values": ["2025-03-03","2025-04-01","2025-05-01","2025-06-02","2025-07-01","2025-08-01","2025-09-02","2025-10-01","2025-11-03","2025-12-01","2026-01-02","2026-02-02"],
                 "labelExpr": "utcFormat(toDate(datum.value), (datum.value == '2025-03-03' || datum.value == '2026-01-02') ? '%b %y' : '%b')",
                 "labelAngle": 0, "grid": false, "domain": true, "domainColor": "#888888", "ticks": false,
                 "labelFontWeight": "bold", "labelFontSize": 11, "labelColor": "#222222", "labelPadding": 4, "title": null}},
  "y": {"datum": 339.06, "type": "quantitative", "scale": {"domain": [280, 340], "range": [481, 0], "zero": false, "nice": false}, "axis": null}}},
{"data": {"values": [{"k": "Op:302.5, Hi:309.4, Lo:299.6, Cl:303.6", "at": "2025-02-07"}]},
 "mark": {"type": "text", "align": "left", "baseline": "middle", "dx": 14, "fontSize": 11, "color": "#222222"},
 "encoding": {
  "x": {"field": "at", "type": "ordinal",
        "axis": {"values": ["2025-03-03","2025-04-01","2025-05-01","2025-06-02","2025-07-01","2025-08-01","2025-09-02","2025-10-01","2025-11-03","2025-12-01","2026-01-02","2026-02-02"],
                 "labelExpr": "utcFormat(toDate(datum.value), (datum.value == '2025-03-03' || datum.value == '2026-01-02') ? '%b %y' : '%b')",
                 "labelAngle": 0, "grid": false, "domain": true, "domainColor": "#888888", "ticks": false,
                 "labelFontWeight": "bold", "labelFontSize": 11, "labelColor": "#222222", "labelPadding": 4, "title": null}},
  "y": {"datum": 339.06, "type": "quantitative", "scale": {"domain": [280, 340], "range": [481, 0], "zero": false, "nice": false}, "axis": null},
  "text": {"field": "k"}}},
{"data": {"values": [{"k": "© Barchart.com", "at": "2025-02-07"}]},
 "mark": {"type": "text", "align": "left", "baseline": "middle", "dx": 10, "fontSize": 11, "color": "#333333"},
 "encoding": {
  "x": {"field": "at", "type": "ordinal",
        "axis": {"values": ["2025-03-03","2025-04-01","2025-05-01","2025-06-02","2025-07-01","2025-08-01","2025-09-02","2025-10-01","2025-11-03","2025-12-01","2026-01-02","2026-02-02"],
                 "labelExpr": "utcFormat(toDate(datum.value), (datum.value == '2025-03-03' || datum.value == '2026-01-02') ? '%b %y' : '%b')",
                 "labelAngle": 0, "grid": false, "domain": true, "domainColor": "#888888", "ticks": false,
                 "labelFontWeight": "bold", "labelFontSize": 11, "labelColor": "#222222", "labelPadding": 4, "title": null}},
  "y": {"datum": 281.6, "type": "quantitative", "scale": {"domain": [280, 340], "range": [481, 0], "zero": false, "nice": false}, "axis": null},
  "text": {"field": "k"}}},
{"data": {"values": [{"k": "Vol: 110,002", "s": "vol", "at": "2025-02-07"}, {"k": "Open Interest: 186,899", "s": "oi", "at": "2025-03-12"}]},
 "mark": {"type": "point", "shape": "square", "filled": true, "size": 40, "opacity": 1, "xOffset": 6, "stroke": "#333333", "strokeWidth": 0.5},
 "encoding": {
  "x": {"field": "at", "type": "ordinal",
        "axis": {"values": ["2025-03-03","2025-04-01","2025-05-01","2025-06-02","2025-07-01","2025-08-01","2025-09-02","2025-10-01","2025-11-03","2025-12-01","2026-01-02","2026-02-02"],
                 "labelExpr": "utcFormat(toDate(datum.value), (datum.value == '2025-03-03' || datum.value == '2026-01-02') ? '%b %y' : '%b')",
                 "labelAngle": 0, "grid": false, "domain": true, "domainColor": "#888888", "ticks": false,
                 "labelFontWeight": "bold", "labelFontSize": 11, "labelColor": "#222222", "labelPadding": 4, "title": null}},
  "y": {"datum": 138750, "type": "quantitative", "scale": {"domain": [0, 150000], "range": [584, 484], "nice": false}, "axis": null},
  "fill": {"field": "s", "type": "nominal", "scale": {"domain": ["vol", "oi"], "range": ["#006400", "#9900ff"]}, "legend": null}}},
{"data": {"values": [{"k": "Vol: 110,002", "at": "2025-02-07"}, {"k": "Open Interest: 186,899", "at": "2025-03-12"}]},
 "mark": {"type": "text", "align": "left", "baseline": "middle", "dx": 14, "fontSize": 11, "color": "#222222"},
 "encoding": {
  "x": {"field": "at", "type": "ordinal",
        "axis": {"values": ["2025-03-03","2025-04-01","2025-05-01","2025-06-02","2025-07-01","2025-08-01","2025-09-02","2025-10-01","2025-11-03","2025-12-01","2026-01-02","2026-02-02"],
                 "labelExpr": "utcFormat(toDate(datum.value), (datum.value == '2025-03-03' || datum.value == '2026-01-02') ? '%b %y' : '%b')",
                 "labelAngle": 0, "grid": false, "domain": true, "domainColor": "#888888", "ticks": false,
                 "labelFontWeight": "bold", "labelFontSize": 11, "labelColor": "#222222", "labelPadding": 4, "title": null}},
  "y": {"datum": 138750, "type": "quantitative", "scale": {"domain": [0, 150000], "range": [584, 484], "nice": false}, "axis": null},
  "text": {"field": "k"}}},
{"data": {"values": [{"last": 303.6, "at": "2026-02-06"}]},
 "mark": {"type": "rect", "color": "#000000", "xOffset": 34.6, "x2Offset": 63},
 "encoding": {
  "x": {"field": "at", "type": "ordinal",
        "axis": {"values": ["2025-03-03","2025-04-01","2025-05-01","2025-06-02","2025-07-01","2025-08-01","2025-09-02","2025-10-01","2025-11-03","2025-12-01","2026-01-02","2026-02-02"],
                 "labelExpr": "utcFormat(toDate(datum.value), (datum.value == '2025-03-03' || datum.value == '2026-01-02') ? '%b %y' : '%b')",
                 "labelAngle": 0, "grid": false, "domain": true, "domainColor": "#888888", "ticks": false,
                 "labelFontWeight": "bold", "labelFontSize": 11, "labelColor": "#222222", "labelPadding": 4, "title": null}},
  "x2": {"field": "at"},
  "y": {"datum": 304.24, "type": "quantitative", "scale": {"domain": [280, 340], "range": [481, 0], "zero": false, "nice": false}, "axis": null},
  "y2": {"datum": 302.79}}},
{"data": {"values": [{"last": 303.6, "at": "2026-02-06"}]},
 "mark": {"type": "text", "align": "left", "baseline": "middle", "dx": 35.5, "fontSize": 11, "color": "#ffffff"},
 "encoding": {
  "x": {"field": "at", "type": "ordinal",
        "axis": {"values": ["2025-03-03","2025-04-01","2025-05-01","2025-06-02","2025-07-01","2025-08-01","2025-09-02","2025-10-01","2025-11-03","2025-12-01","2026-01-02","2026-02-02"],
                 "labelExpr": "utcFormat(toDate(datum.value), (datum.value == '2025-03-03' || datum.value == '2026-01-02') ? '%b %y' : '%b')",
                 "labelAngle": 0, "grid": false, "domain": true, "domainColor": "#888888", "ticks": false,
                 "labelFontWeight": "bold", "labelFontSize": 11, "labelColor": "#222222", "labelPadding": 4, "title": null}},
  "y": {"field": "last", "type": "quantitative", "scale": {"domain": [280, 340], "range": [481, 0], "zero": false, "nice": false}, "axis": null},
  "text": {"field": "last", "type": "quantitative", "format": ".1f"}}}
],
"resolve": {"scale": {"y": "independent", "fill": "independent", "color": "independent"}, "axis": {"y": "independent"}}
}
